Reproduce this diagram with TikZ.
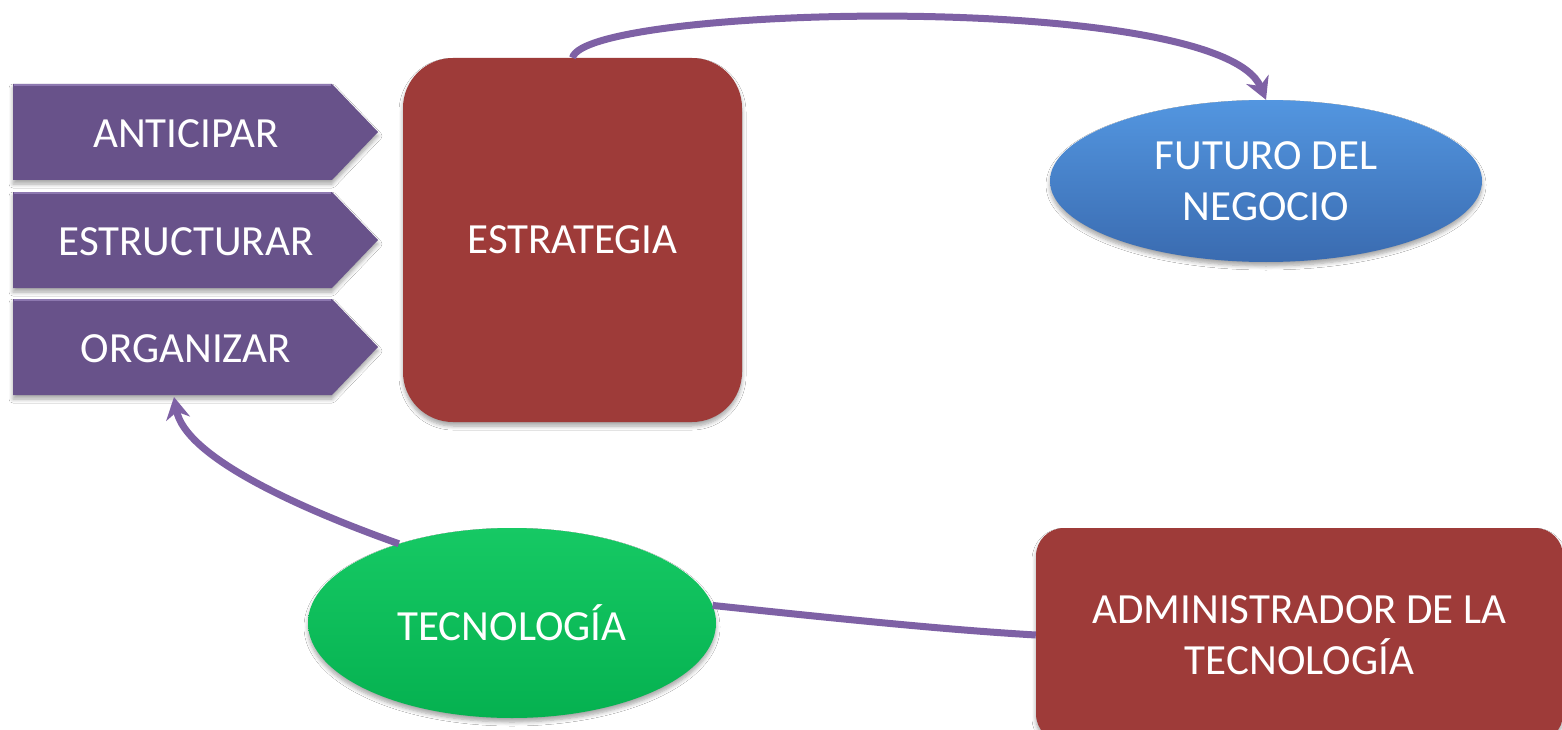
\documentclass[tikz,border=0pt]{standalone}
\usepackage{fontspec}
\setmainfont{Carlito}
\usetikzlibrary{shapes.geometric,shadows.blur,arrows.meta}
\definecolor{chev}{HTML}{68528A}
\definecolor{chevtop}{HTML}{8D78B0}
\definecolor{connc}{HTML}{7E61A5}
\definecolor{boxred}{HTML}{9E3B39}
\definecolor{blueT}{HTML}{5396E0}
\definecolor{blueB}{HTML}{3A6BB0}
\definecolor{greenT}{HTML}{16C964}
\definecolor{greenB}{HTML}{05B150}
\begin{document}
\begin{tikzpicture}[x=1pt,y=-1pt,
  lbl/.style={text=white,font=\fontsize{43}{51}\selectfont,align=center},
  shad/.style={blur shadow={shadow xshift=0pt,shadow yshift=-4pt,shadow opacity=35,shadow blur radius=4pt,shadow blur steps=6}},
  chevron/.style={fill=chev,shad},
  redbox/.style={rectangle,fill=boxred,shad,lbl,inner sep=0pt},
  ellnode/.style={ellipse,shad,lbl,inner sep=0pt},
  connline/.style={draw=connc,line width=7pt},
  tipend/.style={-{Stealth[length=22pt,width=24pt,inset=7pt]}}
]
\useasboundingbox (0,0) rectangle (1562,730);
\clip (0,0) rectangle (1562,730);
\fill[white] (0,0) rectangle (1562,730);

% chevrons
\path[chevron] (13,84) -- (332,84) -- (378,132) -- (332,180) -- (13,180) -- cycle;
\path[chevron] (13,192) -- (332,192) -- (378,240) -- (332,288) -- (13,288) -- cycle;
\path[chevron] (13,299) -- (332,299) -- (378,347) -- (332,395) -- (13,395) -- cycle;
\draw[chevtop,line width=2pt] (14,85) -- (331,85) (14,193) -- (331,193) (14,300) -- (331,300);
\node[lbl] (ant) at (186,134) {ANTICIPAR};
\node[lbl] (est) at (186,242) {ESTRUCTURAR};
\node[lbl] (org) at (186,349) {ORGANIZAR};
\coordinate (orgbot) at (174,397);

% ESTRATEGIA
\node[redbox,rounded corners=50pt,minimum width=339pt,minimum height=364pt] (strat) at (572.5,240) {ESTRATEGIA};

% FUTURO DEL NEGOCIO
\node[ellnode,top color=blueT,bottom color=blueB,minimum width=432pt,minimum height=162pt] (fut) at (1266,181) {FUTURO DEL\\NEGOCIO};

% TECNOLOGIA
\node[ellnode,top color=greenT,bottom color=greenB,minimum width=408pt,minimum height=190pt] (tec) at (512,623) {TECNOLOGÍA};

% ADMINISTRADOR
\node[redbox,rounded corners=28pt,minimum width=527pt,minimum height=214pt] (adm) at (1299.5,635) {ADMINISTRADOR DE LA\\TECNOLOGÍA};

% connectors
\draw[connline,tipend] (strat.north) .. controls (585,5) and (1220,-10) .. (fut.north);
\draw[connline,tipend] (tec.145) .. controls (290,505) and (185,455) .. (orgbot);
\draw[connline] (tec.5) .. controls (850,620) and (950,630) .. (adm.west);
\end{tikzpicture}
\end{document}
